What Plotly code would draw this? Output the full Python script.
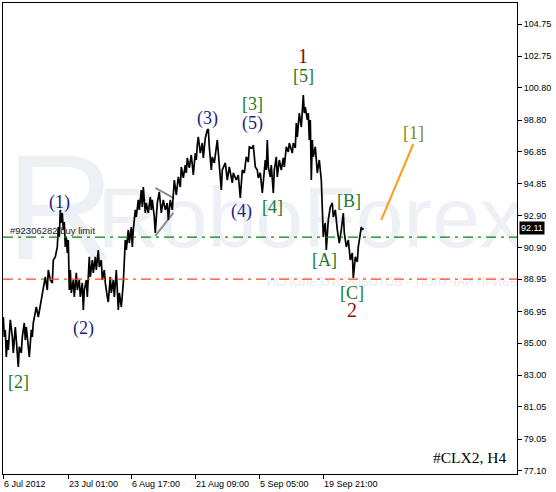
import plotly.graph_objects as go

# H4 bars of #CLX2 (bar number, price), read as a high/low zig-zag
bars = [0, 1, 2, 3, 4, 5, 7, 9, 10, 12, 13, 15, 16, 18, 19, 21, 22, 23, 25, 26,
        28, 29, 30, 32, 33, 35, 37, 39, 40, 42, 44, 45, 47, 49, 50, 52, 54, 55, 56, 57,
        58, 59, 60, 61, 62, 63, 64, 65, 66, 67, 68, 70, 71, 73, 74, 76, 77, 79, 80, 81,
        83, 84, 86, 87, 89, 90, 92, 93, 95, 96, 98, 99, 101, 102, 104, 105, 107, 108, 110, 111,
        113, 115, 116, 117, 118, 120, 121, 122, 123, 125, 126, 128, 129, 130, 132, 133, 135, 136, 138, 139,
        140, 142, 143, 145, 147, 148, 149, 151, 152, 154, 156, 158, 160, 162, 164, 165, 167, 169, 171, 173,
        175, 177, 178, 180, 182, 183, 184, 186, 188, 190, 192, 193, 194, 195, 197, 199, 200, 202, 204, 205,
        206, 208, 209, 211, 214, 215, 218, 219, 222, 224, 226, 229, 230, 233, 235, 237, 239, 241, 243, 245,
        246, 249, 250, 252, 254, 255, 257, 259, 261, 262, 263, 264, 265, 267, 268, 270, 271, 273, 274, 276,
        278, 280, 281, 283, 285, 286, 289, 290, 292, 293, 294, 296, 298, 300, 301, 302, 304, 305, 306, 307,
        308, 309, 310, 312, 314, 316, 318, 319, 320, 321, 322, 323, 324, 325, 327, 329, 330, 332, 334, 336,
        338, 340, 341, 343, 345, 347, 349, 350, 352, 354, 355, 357, 358, 359, 360]
prices = [86.61, 85.38, 85.81, 84.14, 85.19, 84.57, 86.43, 85.38, 84.38, 85.99, 85.19, 83.52, 84.76, 84.38, 85.38, 86.24, 85.19, 85.99, 84.76, 84.14,
          85.81, 85.38, 86.24, 86.86, 87.23, 86.61, 87.36, 88.10, 88.28, 89.09, 88.28, 89.52, 88.90, 88.72, 90.14, 90.33, 90.95, 92.18, 91.57, 93.24,
          92.43, 93.05, 92.00, 92.49, 90.95, 91.57, 90.57, 91.38, 88.28, 89.52, 88.10, 88.90, 87.85, 89.34, 88.28, 88.90, 87.85, 88.72, 87.05, 88.28,
          88.90, 87.85, 90.33, 89.09, 90.14, 89.34, 90.33, 89.52, 90.76, 89.71, 90.14, 88.90, 89.52, 88.72, 87.85, 87.54, 89.09, 88.10, 88.90, 87.85,
          89.52, 87.05, 88.10, 87.54, 87.23, 88.72, 90.14, 91.38, 90.76, 92.00, 91.19, 92.18, 90.95, 92.00, 93.24, 92.80, 93.86, 93.24, 94.47, 93.42,
          94.66, 93.05, 93.67, 93.05, 94.04, 93.24, 93.86, 92.80, 91.81, 93.67, 94.35, 93.05, 93.86, 93.24, 93.67, 92.62, 93.86, 93.24, 95.09, 94.17,
          95.28, 94.66, 95.90, 95.22, 96.02, 95.53, 96.46, 95.84, 96.64, 95.40, 96.76, 96.33, 97.26, 97.76, 96.76, 97.38, 96.46, 97.69, 98.19, 98.25,
          97.14, 95.71, 96.52, 96.15, 97.57, 96.76, 94.47, 95.71, 96.15, 95.09, 95.90, 94.91, 95.53, 95.09, 95.40, 93.98, 95.71, 95.53, 96.52, 96.21,
          97.14, 97.07, 97.26, 95.90, 95.71, 95.22, 95.53, 94.29, 96.02, 96.33, 95.71, 97.57, 95.90, 95.28, 96.02, 94.29, 95.71, 96.52, 95.28, 96.33,
          95.71, 96.46, 95.90, 97.14, 96.83, 97.38, 96.76, 97.38, 97.07, 98.62, 97.76, 99.24, 98.37, 100.35, 99.24, 99.61, 98.81, 99.24, 97.57, 98.81,
          95.09, 97.57, 96.52, 97.14, 95.53, 96.33, 95.09, 93.42, 91.57, 92.18, 92.43, 90.76, 91.57, 92.62, 93.42, 93.67, 92.80, 93.24, 92.00, 91.19,
          92.00, 93.05, 91.81, 90.95, 91.38, 90.14, 90.57, 89.03, 90.33, 90.02, 90.95, 91.81, 92.18, 92.00, 92.11]

last_price = 92.11
buy_limit = 91.55
lower_level = 88.95

# triangle drawn on the chart
tri_top_bars, tri_top_prices = [152, 170], [94.60, 93.98]
tri_bot_bars, tri_bot_prices = [152, 170], [91.63, 93.05]
# forecast line for wave [1]
fc_bars, fc_prices = [378, 410], [92.62, 97.32]

y_ticks = [104.75, 102.75, 100.80, 98.80, 96.85, 94.85, 92.90, 90.90, 88.95,
           86.95, 85.00, 83.00, 81.05, 79.05, 77.10]
x_tick_bars = [0, 65, 128, 192, 256, 320]
x_tick_text = ["6 Jul 2012", "23 Jul 01:00", "6 Aug 17:00", "21 Aug 09:00",
               "5 Sep 05:00", "19 Sep 21:00"]

# wave labels: text, bar, price, kind
wave_labels = [
    ("[2]", 15, 82.59, "minor"),
    ("(1)", 56, 93.73, "minute"),
    ("(2)", 80, 85.87, "minute"),
    ("(3)", 204, 98.87, "minute"),
    ("[3]", 249, 99.80, "minor"),
    ("(5)", 249, 98.62, "minute"),
    ("(4)", 238, 93.17, "minute"),
    ("[4]", 269, 93.42, "minor"),
    ("1", 300, 102.77, "inter"),
    ("[5]", 300, 101.53, "minor"),
    ("[A]", 321, 90.14, "minor"),
    ("[B]", 346, 93.79, "minor"),
    ("[C]", 349, 88.10, "minor"),
    ("2", 349, 87.05, "inter"),
    ("[1]", 410, 98.00, "forecast"),
]
label_style = {
    "minute": ("#1e1e86", 18),
    "minor": ("#1f7a2a", 18),
    "inter": ("#8b0a0a", 20),
    "forecast": ("#7f8a12", 18),
}

fig = go.Figure()

# broker watermark, drawn first and clipped to the plot area
wm_color = "#edf0f4"
fig.add_trace(go.Scatter(x=[57], y=[92.5], mode="text", text=["R"], hoverinfo="skip",
                         textfont=dict(family="Liberation Sans", size=150, color=wm_color)))
fig.add_trace(go.Scatter(x=[307], y=[92.3], mode="text", text=["RoboForex"], hoverinfo="skip",
                         textfont=dict(family="Liberation Sans", size=86, color=wm_color)))
fig.add_trace(go.Scatter(x=[398], y=[88.72], mode="text", text=["ИСПОЛЬЗУЙ РОБОТОВ – ПОЛУЧАЙ ПРИБЫЛЬ"],
                         hoverinfo="skip",
                         textfont=dict(family="Liberation Sans", size=12, color="#e8ebf0")))

fig.add_trace(go.Scatter(x=tri_top_bars, y=tri_top_prices, mode="lines",
                         line=dict(color="#8c8c8c", width=2), hoverinfo="skip"))
fig.add_trace(go.Scatter(x=tri_bot_bars, y=tri_bot_prices, mode="lines",
                         line=dict(color="#8c8c8c", width=2), hoverinfo="skip"))
fig.add_trace(go.Scatter(x=bars, y=prices, mode="lines",
                         line=dict(color="black", width=1.7)))
fig.add_trace(go.Scatter(x=fc_bars, y=fc_prices, mode="lines",
                         line=dict(color="#ff9c1a", width=2), hoverinfo="skip"))

fig.add_hline(y=buy_limit, line=dict(color="#0a800a", width=1.2, dash="10px,5px,3px,5px"), layer="above")
fig.add_hline(y=lower_level, line=dict(color="#ff4a10", width=1.2, dash="10px,5px,3px,5px"), layer="above")

ann = []
ann.append(dict(text="#92306282 buy limit", x=5, y=buy_limit, xref="x", yref="y", showarrow=False,
                xanchor="left", yanchor="bottom", yshift=-1,
                font=dict(family="Liberation Sans", size=9.5, color="#222222")))

for text, b, p, kind in wave_labels:
    color, size = label_style[kind]
    ann.append(dict(text=text, x=b, y=p, xref="x", yref="y", showarrow=False,
                    xanchor="center", yanchor="middle",
                    font=dict(family="Liberation Serif", size=size, color=color)))

for b, t in zip(x_tick_bars, x_tick_text):
    ann.append(dict(text=t, x=b, y=0, xref="x", yref="paper", showarrow=False,
                    xanchor="left", yanchor="top", yshift=-3, xshift=-1,
                    font=dict(family="Liberation Sans", size=9, color="black")))

ann.append(dict(text="#CLX2, H4", x=0.982, y=0.034, xref="paper", yref="paper", showarrow=False,
                xanchor="right", yanchor="middle",
                font=dict(family="Liberation Serif", size=15.5, color="black")))

ann.append(dict(text=f"{last_price:.2f}", x=1, y=last_price, xref="paper", yref="y", showarrow=False,
                xanchor="left", yanchor="middle", xshift=2, bgcolor="black", borderpad=1,
                font=dict(family="Liberation Sans", size=9, color="white")))

fig.update_layout(
    width=556, height=492,
    margin=dict(l=3, r=39, t=3, b=18, autoexpand=False),
    paper_bgcolor="white",
    plot_bgcolor="white",
    showlegend=False,
    annotations=ann,
    xaxis=dict(
        range=[-0.3, 513.7],
        tickvals=x_tick_bars,
        showticklabels=False,
        ticks="outside", ticklen=4, tickcolor="black",
        showgrid=False, zeroline=False,
        showline=True, linecolor="black", linewidth=1, mirror=True,
    ),
    yaxis=dict(
        range=[76.89, 106.05],
        side="right",
        tickvals=y_ticks,
        ticktext=[f"{v:.2f}" for v in y_ticks],
        ticks="outside", ticklen=4, tickcolor="black",
        tickfont=dict(family="Liberation Sans", size=9, color="black"),
        showgrid=False, zeroline=False,
        showline=True, linecolor="black", linewidth=1, mirror=True,
    ),
)

# page has a default 8px body margin; drop it so the figure sits at the corner
fig.write_html("out.html", config={"displayModeBar": False},
               post_script="document.body.style.margin='0';")
